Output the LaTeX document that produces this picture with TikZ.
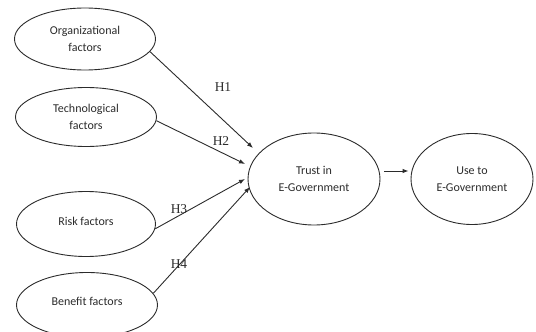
\documentclass[tikz,border=0pt]{standalone}
\usepackage{fontspec}
\setmainfont{Carlito}
\newfontfamily\hfont{Liberation Serif}
\usetikzlibrary{arrows.meta,calc,shapes.geometric}
\definecolor{ink}{HTML}{2B2B2B}
\begin{document}
\begin{tikzpicture}[x=1pt,y=-1pt,
  oval/.style={ellipse,draw=ink,line width=0.9pt,inner sep=0pt,align=center,text=ink,
    font=\fontsize{12}{17}\selectfont},
  arr/.style={draw=ink,line width=0.9pt,-{Latex[length=6pt,width=4.5pt]}},
  hlab/.style={text=ink,font=\hfont\fontsize{13.5}{15}\selectfont,inner sep=0pt}]
\useasboundingbox (0,0) rectangle (536,332);
\node[oval,minimum width=141pt,minimum height=62pt] (org) at (85,39) {Organizational\\factors};
\node[oval,minimum width=141pt,minimum height=59pt] (tech) at (86,117) {Technological\\factors};
\node[oval,minimum width=139pt,minimum height=65pt] (risk) at (86,224) {\raisebox{6pt}{Risk factors}};
\node[oval,minimum width=141pt,minimum height=65pt] (ben) at (87,305) {\raisebox{7pt}{Benefit factors}};
\node[oval,minimum width=132pt,minimum height=92pt] (trust) at (314,179) {Trust in\\E-Government};
\node[oval,minimum width=122pt,minimum height=91pt] (use) at (472,179) {Use to\\E-Government};
\coordinate (e1) at (253,148);
\coordinate (e2) at (245,164);
\coordinate (e3) at (245,179);
\coordinate (e4) at (250,187);
\draw[arr] (org.-11) -- (e1);
\draw[arr] (tech.-3) -- (e2);
\draw[arr] (risk.-4) -- (e3);
\draw[arr] (ben.10) -- (e4);
\draw[arr] ($(trust.east)+(4,-8)$) -- ($(use.west)+(-2,-8)$);
\node[hlab] (h1) at (223,87) {H1};
\node[hlab] (h2) at (221,141) {H2};
\node[hlab] (h3) at (179,209) {H3};
\node[hlab] (h4) at (179,264) {H4};
\end{tikzpicture}
\end{document}
